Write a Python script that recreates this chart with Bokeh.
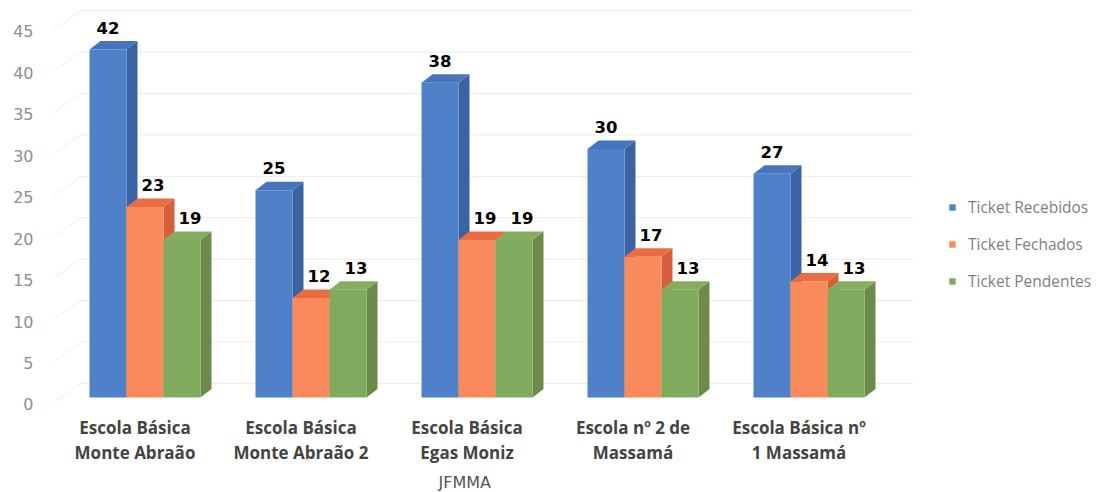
from bokeh.plotting import figure
from bokeh.models import Range1d, LinearAxis, FixedTicker, Legend, LegendItem, Title
from bokeh.core.properties import value
from bokeh.embed import file_html
from bokeh.resources import INLINE

# ---------------- data ----------------
schools = [
    "Escola Básica\nMonte Abraão",
    "Escola Básica\nMonte Abraão 2",
    "Escola Básica\nEgas Moniz",
    "Escola nº 2 de\nMassamá",
    "Escola Básica nº\n1 Massamá",
]
recebidos = [42, 25, 38, 30, 27]
fechados = [23, 12, 19, 17, 14]
pendentes = [19, 13, 19, 13, 13]
series_names = ["Ticket Recebidos", "Ticket Fechados", "Ticket Pendentes"]
y_ticks = [0, 5, 10, 15, 20, 25, 30, 35, 40, 45]
x_title = "JFMMA"

# ---------------- styling / geometry ----------------
front_colors = ["#4f81c8", "#f98a5b", "#80aa5e"]
top_colors = ["#4675bd", "#ea6c45", "#86ad5f"]
side_colors = ["#3a63a3", "#d65f3a", "#6c8b4b"]

PX_X = 166.0      # pixels per category
PX_Y = 8.286      # pixels per unit
W = 37.0 / PX_X   # bar width (data)
DX = 11.0 / PX_X  # depth x
DY = 8.5 / PX_Y   # depth y
SHIFT = 10.0 / PX_X
BACK = 14.0 / PX_Y

p = figure(
    frame_width=1062, frame_height=402,
    x_range=Range1d(-0.5693, 5.8283),
    y_range=Range1d(-1.569, 46.95),
    output_backend="svg", toolbar_location=None,
    y_axis_location=None,
    min_border_left=40, min_border_right=0, min_border_top=8, min_border_bottom=82,
)
p.outline_line_color = None
p.grid.visible = False
p.background_fill_color = "white"

p.extra_y_ranges = {"ax": Range1d(-0.724, 47.77)}

# back-wall gridlines + left diagonal
gx0, gx1, gxd = -0.328, 4.69, -0.497
p.segment(x0=[gx0] * len(y_ticks), y0=[v + BACK for v in y_ticks],
          x1=[gx1] * len(y_ticks), y1=[v + BACK for v in y_ticks],
          line_color="#ececec", line_width=1)
p.segment(x0=[gxd] * len(y_ticks), y0=[v - 0.72 for v in y_ticks],
          x1=[gx0] * len(y_ticks), y1=[v + BACK for v in y_ticks],
          line_color="#efefef", line_width=1)

series = [recebidos, fechados, pendentes]
front_renderers = []
for k, vals in enumerate(series):
    xc = [i + SHIFT + (k - 1) * W for i in range(len(vals))]
    x0 = [c - W / 2 for c in xc]
    x1 = [c + W / 2 for c in xc]
    side_xs = [[a, a + DX, a + DX, a] for a in x1]
    side_ys = [[0, DY, v + DY, v] for v in vals]
    top_xs = [[a, b, b + DX, a + DX] for a, b in zip(x0, x1)]
    top_ys = [[v, v, v + DY, v + DY] for v in vals]
    p.patches(side_xs, side_ys, fill_color=side_colors[k], line_color=None)
    p.patches(top_xs, top_ys, fill_color=top_colors[k], line_color=None)
    r = p.vbar(x=xc, top=vals, bottom=0, width=W, fill_color=front_colors[k], line_color=None)
    front_renderers.append(r)
    p.text(x=xc, y=vals, text=[str(v) for v in vals],
           x_offset=[0 if k == 0 else 8] * len(vals), y_offset=[-22] * len(vals),
           text_align="center", text_baseline="middle",
           text_font=value("DejaVu Sans"), text_font_style="bold",
           text_font_size="16.5px", text_color="black")

# y axis
yax = LinearAxis(y_range_name="ax", ticker=FixedTicker(ticks=y_ticks))
yax.axis_line_color = None
yax.major_tick_line_color = None
yax.minor_tick_line_color = None
yax.major_tick_out = 0
yax.major_tick_in = 0
yax.major_label_standoff = 7
yax.major_label_text_font = "DejaVu Sans"
yax.major_label_text_font_size = "16px"
yax.major_label_text_color = "#8e8e8e"
p.add_layout(yax, "left")

# x axis
xa = p.xaxis[0]
xa.ticker = FixedTicker(ticks=list(range(len(schools))))
xa.major_label_overrides = {i: s for i, s in enumerate(schools)}
xa.axis_line_color = None
xa.major_tick_line_color = None
xa.minor_tick_line_color = None
xa.major_tick_out = 0
xa.major_tick_in = 0
xa.major_label_standoff = 5
xa.major_label_text_font = "Open Sans"
xa.major_label_text_font_style = "bold"
xa.major_label_text_font_size = "17px"
xa.major_label_text_color = "#444444"
xa.major_label_text_line_height = 1.11

p.add_layout(Title(text=x_title, align="left", offset=398, standoff=6,
                   text_font="DejaVu Sans", text_font_size="16px",
                   text_font_style="normal", text_color="#555555"), "below")

legend = Legend(
    items=[LegendItem(label=n, renderers=[r]) for n, r in zip(series_names, front_renderers)],
    location=(908, 118), orientation="vertical",
    glyph_width=8, glyph_height=8, label_height=20, spacing=15, label_standoff=12,
    padding=0, margin=0, border_line_color=None, background_fill_alpha=0,
    label_text_font="Open Sans", label_text_font_size="15.5px", label_text_color="#7f7f7f",
)
p.add_layout(legend)

open("out.html", "w").write(file_html(p, INLINE))
